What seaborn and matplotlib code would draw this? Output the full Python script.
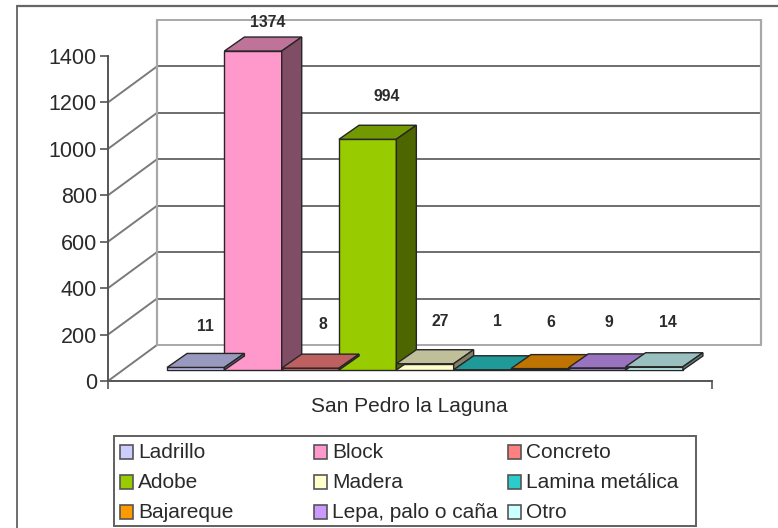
import seaborn as sns
import matplotlib.pyplot as plt
import pandas as pd
from matplotlib.colors import to_rgb
from matplotlib.patches import Polygon, Rectangle
from matplotlib.transforms import Affine2D

place = "San Pedro la Laguna"
materials = ["Ladrillo", "Block", "Concreto", "Adobe", "Madera", "Lamina metálica", "Bajareque", "Lepa, palo o caña", "Otro"]
counts = [11, 1374, 8, 994, 27, 1, 6, 9, 14]
colors = ["#CCCCFF", "#FF99CC", "#FF8080", "#99CC00", "#FFFFCC", "#2ACCCC", "#FF9900", "#CC99FF", "#CCFFFF"]
y_ticks = [0, 200, 400, 600, 800, 1000, 1200, 1400]

# pixel nudges of the value labels, measured from the top centre of each bar
label_dx = [10, 15, 13, 19, 15, 15, 11, 12, 14]
label_dy = [41, 29, 44, 43, 42, 48, 46, 45, 44]

W, H = 778, 528
sns.set_style("white")
plt.rcParams["font.family"] = ["Liberation Sans", "DejaVu Sans"]
text_color = "#2a2a2a"
edge = "#262626"

fig = plt.figure(figsize=(W / 100, H / 100), dpi=100)
# axes = front plane of the fake 3D box
ax = fig.add_axes([108 / W, 1 - 381 / H, 604 / W, 325 / H])

df = pd.DataFrame({"place": place, "material": materials, "count": counts})
sns.barplot(data=df, x="place", y="count", hue="material", hue_order=materials,
            palette=colors, width=0.854, saturation=1, legend=False, ax=ax)
ax.set_xlim(-0.5, 0.5)
ax.set_ylim(0, 1400)

# bars stand a little way back from the front plane, walls at the very back
bar_shift = ax.transData + Affine2D().translate(15, 11)
wall_shift = ax.transData + Affine2D().translate(49, 36)
depth = (20, 14)


def shade(c, f):
    r, g, b = to_rgb(c)
    return (r * f, g * f, b * f)


for i, cont in enumerate(ax.containers):
    p = cont.patches[0]
    x0, x1 = p.get_x(), p.get_x() + p.get_width()
    top = p.get_height()
    p.set_transform(bar_shift)
    p.set_clip_on(False)
    p.set_edgecolor(edge)
    p.set_linewidth(1)
    p.set_zorder(5 + i)
    (ax0, ay0), (ax1, ay1) = bar_shift.transform([(x0, top), (x1, top)])
    ybase = bar_shift.transform((x1, 0))[1]
    top_face = [(ax0, ay0), (ax1, ay1), (ax1 + depth[0], ay1 + depth[1]), (ax0 + depth[0], ay0 + depth[1])]
    side_face = [(ax1, ay1), (ax1 + depth[0], ay1 + depth[1]), (ax1 + depth[0], ybase + depth[1]), (ax1, ybase)]
    for pts, f in ((top_face, 0.75), (side_face, 0.5)):
        fig.add_artist(Polygon(pts, closed=True, facecolor=shade(colors[i], f), edgecolor=edge,
                               linewidth=1, transform=None, zorder=5 + i))
    ax.annotate(str(counts[i]), xy=((x0 + x1) / 2, top), xycoords=bar_shift,
                xytext=(label_dx[i], label_dy[i]), textcoords="offset pixels",
                ha="center", va="center", fontsize=11.3, fontweight="bold", color=text_color,
                annotation_clip=False, zorder=30)

# back wall, side wall, floor
for v in y_ticks:
    dark = v not in (0, 1400)
    col = "#6e6e6e" if dark else "#a8a8a8"
    ax.plot([-0.5, 0.5], [v, v], transform=wall_shift, color=col, lw=1.4, clip_on=False, zorder=1)
    (fx, fy) = ax.transData.transform((-0.5, v))
    ax.add_artist(plt.Line2D([fx, fx + 49], [fy, fy + 36], transform=None, color="#7a7a7a", lw=1.4, zorder=1))
for xv in (-0.5, 0.5):
    ax.plot([xv, xv], [0, 1400], transform=wall_shift, color="#a8a8a8", lw=1.6, clip_on=False, zorder=1)
fx, fy = ax.transData.transform((0.5, 0))
ax.add_artist(plt.Line2D([fx, fx + 49], [fy, fy + 36], transform=None, color="#a8a8a8", lw=1.4, zorder=1))

ax.patch.set_alpha(0)
for s in ("top", "right"):
    ax.spines[s].set_visible(False)
for s in ("left", "bottom"):
    ax.spines[s].set_color("#555555")
    ax.spines[s].set_linewidth(1.4)
ax.set_yticks(y_ticks)
ax.set_xticks([-0.5, 0.5])
ax.set_xticklabels(["", ""])
ax.tick_params(axis="both", length=6, width=1.2, color="#555555", left=True, bottom=True, pad=2)
ax.tick_params(axis="y", labelsize=15.5, labelcolor=text_color)
ax.set_ylabel("")
ax.set_xlabel("")
fig.text(409 / W, 1 - 406 / H, place, ha="center", va="center", fontsize=15, color=text_color)

# outer frame of the pasted picture
fig.add_artist(plt.Line2D([17 / W, 17 / W], [0, 1 - 6 / H], color="#555555", lw=1.2))
fig.add_artist(plt.Line2D([17 / W, 1], [1 - 6 / H, 1 - 6 / H], color="#666666", lw=1.6))

# legend box, filled row by row on even columns
fig.add_artist(Rectangle((114 / W, 1 - 526 / H), 582 / W, 90 / H, transform=fig.transFigure,
                         facecolor="white", edgecolor="#606060", linewidth=1.4, zorder=2))
col_x = [120, 314, 508]
row_y = [452, 482, 512]
for i, name in enumerate(materials):
    sx, sy = col_x[i % 3], row_y[i // 3]
    fig.add_artist(Rectangle((sx / W, 1 - (sy + 7) / H), 13 / W, 14 / H, transform=fig.transFigure,
                             facecolor=colors[i], edgecolor="#555555", linewidth=1.2, zorder=3))
    fig.text((sx + 18) / W, 1 - (sy + 1) / H, name, ha="left", va="center", fontsize=15, color=text_color, zorder=4)

fig.savefig("out.png", dpi=100)
